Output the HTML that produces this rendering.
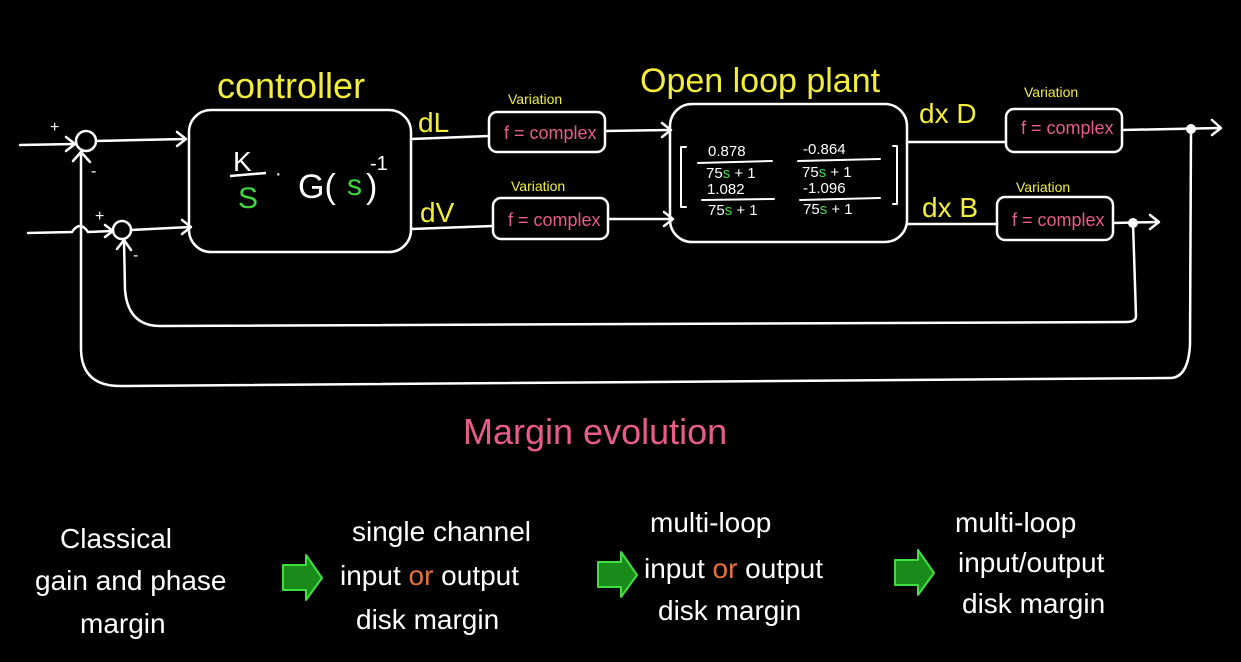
<!DOCTYPE html>
<html><head><meta charset="utf-8"><style>
html,body{margin:0;padding:0;background:#000;}
svg{display:block}
text{font-family:"Liberation Sans",sans-serif;}
</style></head><body>
<svg width="1241" height="662" viewBox="0 0 1241 662" xmlns="http://www.w3.org/2000/svg">
<rect width="1241" height="662" fill="#000"/>
<g stroke="#fff" stroke-width="2.5" fill="none" stroke-linecap="round" stroke-linejoin="round">
  <circle cx="86" cy="141" r="10"/>
  <line x1="20" y1="145" x2="74" y2="144"/>
  <polyline points="66,137 75,144 66,151"/>
  <line x1="96" y1="141" x2="185" y2="139"/>
  <polyline points="177,132 186,139 177,146"/>
  <circle cx="122" cy="230" r="9"/>
  <path d="M28,233 L72,232 Q80,220 88,232 L112,231"/>
  <polyline points="105,225 113,231 105,237"/>
  <line x1="131" y1="230" x2="190" y2="227"/>
  <polyline points="182,220 191,227 182,234"/>
  <rect x="189" y="110" width="222" height="142" rx="22"/>
  <line x1="411" y1="139" x2="489" y2="136"/>
  <line x1="411" y1="229" x2="493" y2="226"/>
  <rect x="489" y="112" width="116" height="40" rx="8"/>
  <rect x="493" y="198" width="115" height="41" rx="8"/>
  <line x1="605" y1="131" x2="670" y2="130"/>
  <polyline points="662,123 671,130 662,137"/>
  <line x1="608" y1="219" x2="672" y2="219"/>
  <polyline points="664,212 673,219 664,226"/>
  <rect x="670" y="104" width="237" height="138" rx="22"/>
  <polyline points="686,147 681,147 681,207 686,207" stroke-width="2"/>
  <polyline points="893,146 897,146 897,204 893,204" stroke-width="2"/>
  <line x1="698" y1="163" x2="772" y2="161" stroke-width="2"/>
  <line x1="798" y1="161" x2="880" y2="159" stroke-width="2"/>
  <line x1="702" y1="200" x2="774" y2="199" stroke-width="2"/>
  <line x1="800" y1="200" x2="880" y2="198" stroke-width="2"/>
  <line x1="907" y1="142" x2="1006" y2="142"/>
  <line x1="907" y1="224" x2="997" y2="224"/>
  <rect x="1006" y="109" width="116" height="43" rx="8"/>
  <rect x="997" y="197" width="116" height="43" rx="8"/>
  <line x1="1122" y1="130" x2="1220" y2="128"/>
  <polyline points="1212,120 1221,128 1212,135"/>
  <line x1="1113" y1="223" x2="1158" y2="222"/>
  <polyline points="1150,215 1159,222 1150,229"/>
  <path d="M1133,223 L1136,316 Q1136,322 1126,322 L160,326 Q128,326 125,290 L124,240"/>
  <polyline points="117,249 124,240 131,250"/>
  <path d="M1191,129 L1190,345 Q1188,378 1170,378 L120,386 Q82,386 81,350 L81,152"/>
  <polyline points="73,161 81,152 90,162"/>
</g>
<circle cx="1191" cy="129" r="5" fill="#fff"/>
<circle cx="1133" cy="223" r="5" fill="#fff"/>
<g fill="#fff" font-size="16">
  <text x="50" y="132">+</text><text x="91" y="176">-</text>
  <text x="95" y="221">+</text><text x="133" y="260">-</text>
</g>
<g fill="#f2ee3a">
  <text x="217" y="98" font-size="36">controller</text>
  <text x="640" y="92" font-size="34">Open loop plant</text>
  <text x="418" y="132" font-size="28">dL</text>
  <text x="420" y="222" font-size="28">dV</text>
  <text x="919" y="123" font-size="28">dx D</text>
  <text x="922" y="217" font-size="28">dx B</text>
  <text x="508" y="104" font-size="14">Variation</text>
  <text x="511" y="191" font-size="14">Variation</text>
  <text x="1024" y="97" font-size="14">Variation</text>
  <text x="1016" y="192" font-size="14">Variation</text>
</g>
<g fill="#e85c8a" font-size="18">
  <text x="504" y="139">f = complex</text>
  <text x="508" y="226">f = complex</text>
  <text x="1021" y="134">f = complex</text>
  <text x="1012" y="226">f = complex</text>
</g>
<g fill="#fff">
  <text x="233" y="171" font-size="28">K</text>
  <line x1="230" y1="176" x2="266" y2="173" stroke="#fff" stroke-width="2.5"/>
  <text x="238" y="208" font-size="30" fill="#3ed83e">S</text>
  <text x="275" y="180" font-size="20">·</text>
  <text x="298" y="198" font-size="34">G(</text>
  <text x="347" y="195" font-size="30" fill="#3ed83e">s</text>
  <text x="366" y="198" font-size="34">)</text>
  <text x="370" y="170" font-size="20">-1</text>
</g>
<g fill="#fff" font-size="15">
  <text x="708" y="156">0.878</text>
  <text x="803" y="154">-0.864</text>
  <text x="706" y="178">75<tspan fill="#3ed83e">s</tspan> + 1</text>
  <text x="802" y="177">75<tspan fill="#3ed83e">s</tspan> + 1</text>
  <text x="707" y="194">1.082</text>
  <text x="803" y="193">-1.096</text>
  <text x="708" y="215">75<tspan fill="#3ed83e">s</tspan> + 1</text>
  <text x="803" y="214">75<tspan fill="#3ed83e">s</tspan> + 1</text>
</g>
<text x="463" y="444" font-size="36" fill="#e85c8a">Margin evolution</text>
<g fill="#fff" font-size="28">
  <text x="60" y="548">Classical</text>
  <text x="35" y="590">gain and phase</text>
  <text x="80" y="633">margin</text>
  <text x="352" y="541">single channel</text>
  <text x="340" y="585">input <tspan fill="#e8703a">or</tspan> output</text>
  <text x="356" y="629">disk margin</text>
  <text x="650" y="532">multi-loop</text>
  <text x="644" y="578">input <tspan fill="#e8703a">or</tspan> output</text>
  <text x="658" y="620">disk margin</text>
  <text x="955" y="532">multi-loop</text>
  <text x="958" y="572">input/output</text>
  <text x="962" y="613">disk margin</text>
</g>
<g fill="#1a8a1a" stroke="#3fe03f" stroke-width="2" stroke-linejoin="round">
  <path d="M283,565 L306,565 L306,555 L322,578 L306,600 L306,590 L283,590 Z"/>
  <path d="M598,562 L621,562 L621,552 L637,575 L621,597 L621,587 L598,587 Z"/>
  <path d="M895,560 L918,560 L918,550 L934,573 L918,595 L918,585 L895,585 Z"/>
</g>
</svg>
</body></html>
